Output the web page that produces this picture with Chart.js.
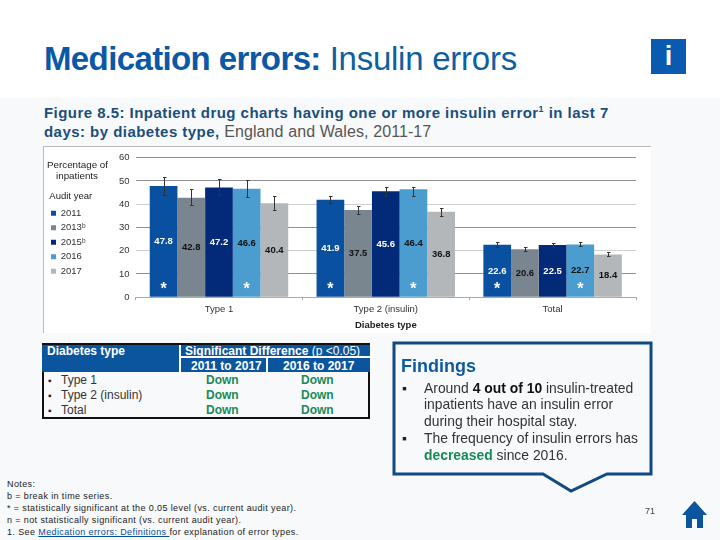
<!DOCTYPE html>
<html><head><meta charset="utf-8">
<script src="https://cdn.jsdelivr.net/npm/chart.js@4"></script>
<style>
html,body{margin:0;padding:0}
body{width:720px;height:540px;background:#f8f9fa;font-family:"Liberation Sans",Arial,sans-serif;position:relative;overflow:hidden;color:#111}
.abs{position:absolute;white-space:nowrap}
#head{left:0;top:0;width:720px;height:98px;background:#fff}
#title{left:44px;top:39px;font-size:33px;line-height:40px;color:#0f5f9f;letter-spacing:-.25px}
#title b{color:#0b58a6;letter-spacing:-.62px}
#info{left:651px;top:39px;width:35px;height:35px;background:#0a5ab0;color:#fff;font:bold 27px/34px "Liberation Sans";text-align:center}
#cap{left:44px;top:104px;font-size:16px;line-height:18.8px;color:#555;letter-spacing:.1px}
#cap b{color:#1a4f7c;font-size:15px;letter-spacing:.46px}
#cap sup{font-size:9px;line-height:0}
#panel{left:43px;top:146px;width:608px;height:187px;background:#fff;border-left:1px solid #bbb;border-top:1px solid #bbb;box-sizing:border-box}
#wrap{left:43px;top:146px;width:608px;height:187px}
#pct{left:47px;top:158.5px;width:60px;text-align:center;font-size:9.8px;line-height:11px;color:#222}
</style></head><body>
<div class="abs" id="head"></div>
<div class="abs" id="title"><b>Medication errors:</b> Insulin errors</div>
<div class="abs" id="info">i</div>
<div class="abs" id="cap"><b>Figure 8.5: Inpatient drug charts having one or more insulin error<sup>1</sup> in last 7<br>days: by diabetes type,</b> England and Wales, 2011-17</div>
<div class="abs" id="panel"></div>
<div class="abs" id="wrap"><canvas id="c" width="608" height="187"></canvas></div>
<div class="abs" id="pct">Percentage of<br>inpatients</div>

<div class="abs" style="left:42px;top:343px;width:328px;height:29px;background:#0b559f;border-top:2px solid #111;box-sizing:border-box"></div>
<div class="abs" style="left:179px;top:345px;width:191px;height:11px;border:0 solid #fff;border-left:2px solid #fff;border-bottom:2px solid #fff;box-sizing:content-box"></div>
<div class="abs" style="left:179px;top:358px;width:2px;height:14px;background:#fff"></div>
<div class="abs" style="left:266px;top:358px;width:2px;height:14px;background:#fff"></div>
<div class="abs" style="left:47px;top:344px;font:bold 12px/14px 'Liberation Sans';color:#fff">Diabetes type</div>
<div class="abs" style="left:185px;top:344px;font:bold 12px/14px 'Liberation Sans';color:#fff">Significant Difference <span style="font-weight:400">(p &lt;0.05)</span></div>
<div class="abs" style="left:191px;top:359px;font:bold 12px/14px 'Liberation Sans';color:#fff">2011 to 2017</div>
<div class="abs" style="left:283px;top:359px;font:bold 12px/14px 'Liberation Sans';color:#fff">2016 to 2017</div>
<div class="abs" style="left:42px;top:372px;width:328px;height:47px;border:2px solid #111;border-top:0;box-sizing:border-box"></div>
<div class="abs" style="left:48px;top:373px;font-size:10px;line-height:15px;color:#222">▪<br>▪<br>▪</div>
<div class="abs" style="left:61px;top:373px;font-size:12px;line-height:15px;color:#333">Type 1<br>Type 2 (insulin)<br>Total</div>
<div class="abs" style="left:206px;top:373px;font:bold 12px/15px 'Liberation Sans';color:#178a57">Down<br>Down<br>Down</div>
<div class="abs" style="left:301px;top:373px;font:bold 12px/15px 'Liberation Sans';color:#178a57">Down<br>Down<br>Down</div>

<div class="abs" style="left:7px;top:478px;font-size:9px;line-height:12.1px;color:#222;letter-spacing:.39px">Notes:<br>b = break in time series.<br>* = statistically significant at the 0.05 level (vs. current audit year).<br>n = not statistically significant (vs. current audit year).<br>1. See <span style="color:#0b4f96;text-decoration:underline">Medication errors: Definitions </span>for explanation of error types.</div>

<svg class="abs" style="left:0;top:0" width="720" height="540"><path d="M394 343H651V474H607L571 491L543 474H394Z" fill="#f8f9fa" stroke="#0f4a82" stroke-width="3"/></svg>
<div class="abs" style="left:401px;top:356px;font:bold 18px/20px 'Liberation Sans';color:#0f5a9e">Findings</div>
<div class="abs" style="left:402px;top:379.5px;font-size:13.9px;line-height:16.8px;color:#222">▪</div>
<div class="abs" style="left:402px;top:430px;font-size:13.9px;line-height:16.8px;color:#222">▪</div>
<div class="abs" style="left:424px;top:379.5px;font-size:13.9px;line-height:16.8px;color:#333">Around <b style="color:#111">4 out of 10</b> insulin-treated<br>inpatients have an insulin error<br>during their hospital stay.<br>The frequency of insulin errors has<br><b style="color:#178a57">decreased</b> since 2016.</div>
<div class="abs" style="left:645px;top:506px;font-size:9px;line-height:11px;color:#444">71</div>
<svg class="abs" style="left:680px;top:498px" width="30" height="32"><path d="M14.5 3L27 17H23V30H17V21H12V30H6V17H2Z" fill="#0b559f"/></svg>

<script>
const categories=["Type 1","Type 2 (insulin)","Total"];
const years=["2011","2013ᵇ","2015ᵇ","2016","2017"];
const v2011=[47.8,41.9,22.6];
const v2013=[42.8,37.5,20.6];
const v2015=[47.2,45.6,22.5];
const v2016=[46.6,46.4,22.7];
const v2017=[40.4,36.8,18.4];
const hi2011=[51.7,43.6,23.7],lo2011=[44.1,40.4,21.5];
const hi2013=[46.7,39.1,21.7],lo2013=[39.6,36.0,19.7];
const hi2015=[50.7,47.3,23.3],lo2015=[43.9,43.6,21.7];
const hi2016=[50.3,47.3,23.7],lo2016=[43.3,43.6,22.0];
const hi2017=[43.6,38.3,19.4],lo2017=[37.4,35.1,17.6];
const stars2011=[1,1,1],stars2016=[1,1,1];
const yTicks=[0,10,20,30,40,50,60];
const colors=["#0a50a0","#7a868f","#022a78","#4a9dce","#b4b7ba"];
const labelColors=["#fff","#111","#fff","#111","#111"];
const series=[
 {data:v2011,hi:hi2011,lo:lo2011,stars:stars2011},
 {data:v2013,hi:hi2013,lo:lo2013,stars:null},
 {data:v2015,hi:hi2015,lo:lo2015,stars:null},
 {data:v2016,hi:hi2016,lo:lo2016,stars:stars2016},
 {data:v2017,hi:hi2017,lo:lo2017,stars:null}];
const overlay={id:'overlay',
 afterLayout(ch){const l=ch.legend;if(l){const w=l.width,h=l.height;l.left=3;l.top=46;l.right=3+w;l.bottom=46+h;}},
 afterDatasetsDraw(ch){const c=ch.ctx,y=ch.scales.y;
  ch.data.datasets.forEach((ds,i)=>{const m=ch.getDatasetMeta(i);
   m.data.forEach((b,j)=>{
    c.save();c.strokeStyle='#333';c.lineWidth=1;
    const x=Math.round(b.x)+.5,t=Math.round(y.getPixelForValue(ds.hi[j]))+.5,u=Math.round(y.getPixelForValue(ds.lo[j]))+.5;
    c.beginPath();c.moveTo(x,t);c.lineTo(x,u);c.moveTo(x-1.5,t);c.lineTo(x+2,t);c.moveTo(x-1.5,u);c.lineTo(x+2,u);c.stroke();
    c.textAlign='center';c.textBaseline='middle';
    c.font='bold 9.5px "Liberation Sans"';c.fillStyle=labelColors[i];
    c.fillText(ds.data[j].toFixed(1),b.x,y.getPixelForValue(ds.data[j]/2));
    if(ds.stars&&ds.stars[j]){c.font='bold 16px "Liberation Sans"';c.fillStyle='#fff';c.fillText('*',b.x,y.getPixelForValue(3.4));}
    c.restore();
   });});}
};
new Chart(document.getElementById('c'),{type:'bar',
 data:{labels:categories,datasets:series.map((s,i)=>({label:years[i],data:s.data,hi:s.hi,lo:s.lo,stars:s.stars,backgroundColor:colors[i],categoryPercentage:.83,barPercentage:1}))},
 plugins:[overlay],
 options:{responsive:false,animation:false,
  layout:{padding:{left:70,right:15,top:10,bottom:0}},
  plugins:{tooltip:{enabled:false},
   legend:{position:'chartArea',align:'start',
    title:{display:true,text:'Audit year',color:'#222',font:{size:9.5,family:'Liberation Sans'},padding:{top:0,bottom:0}},
    labels:{boxWidth:5,boxHeight:5,padding:5,color:'#333',font:{size:9.5,family:'Liberation Sans'}}}},
  scales:{
   y:{min:0,max:60,afterBuildTicks(a){a.ticks=yTicks.map(v=>({value:v}));},
      grid:{color:c=>(c.tick&&c.tick.value%20===0&&c.tick.value>0&&c.tick.value<60?'#cfcfcf':'#8f8f8f'),drawTicks:false},border:{display:false},
      ticks:{color:'#333',font:{size:9.5,family:'Liberation Sans'},padding:6}},
   x:{grid:{drawOnChartArea:false,tickColor:'#aaa',tickLength:3},border:{color:'#aaa'},
      ticks:{color:'#333',font:{size:9.5,family:'Liberation Sans'},padding:3},
      title:{display:true,text:'Diabetes type',color:'#222',font:{size:9.5,weight:'bold',family:'Liberation Sans'},padding:{top:2,bottom:2}}}
  }}});
</script>
</body></html>
